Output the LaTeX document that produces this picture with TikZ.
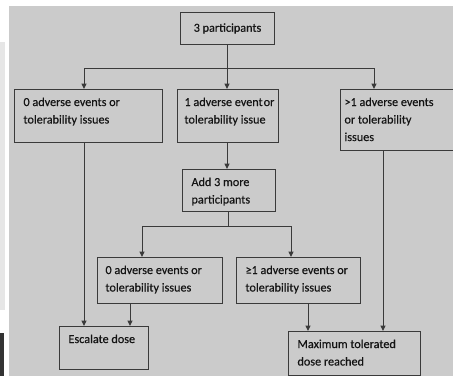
\documentclass[tikz,border=0pt]{standalone}
\usepackage{fontspec}
\setmainfont{Carlito}[FakeBold=0.4]
\usetikzlibrary{arrows.meta}
\definecolor{bg}{HTML}{CBCBCB}
\definecolor{strip}{HTML}{E6E6E6}
\definecolor{darkblk}{HTML}{333333}
\definecolor{ln}{HTML}{3A3A3A}
\definecolor{tx}{HTML}{141414}
\newcommand\boxtxt[4]{\parbox[t][#2pt][t]{#1pt}{\raggedright\leftskip=#3pt\relax\rightskip=-30pt plus 1fil\relax\rule{0pt}{16.5pt}#4}}
\tikzset{
  box/.style={draw=ln, line width=1pt, inner sep=0pt, anchor=north west, text=tx,
              font=\fontsize{12.2}{17.5}\selectfont},
  conn/.style={draw=ln, line width=1pt},
  arr/.style={conn, -{Triangle[length=5.5pt,width=5pt]}},
}
\begin{document}
\begin{tikzpicture}[x=1pt,y=-1pt]
\useasboundingbox (0,0) rectangle (453,376);
\fill[white] (0,0) rectangle (453,376);
\fill[bg] (9,6) rectangle (453,376);
\fill[strip] (0,42) rectangle (5,310);
\fill[darkblk] (0,333) rectangle (4,376);

\node[box] (top) at (180,12) {\parbox[c][32pt][c]{94pt}{\centering 3 participants}};
\node[box] (b0) at (14,89) {\boxtxt{148}{53}{9}{0 adverse events or\\tolerability issues}};
\node[box] (b1) at (176.5,89) {\boxtxt{101}{53}{7.5}{1 adverse event\hspace{1pt}or\\tolerability issue}};
\node[box] (b2) at (340,89) {\boxtxt{112.5}{61}{4}{>1 adverse events\\or tolerability\\issues}};
\node[box] (add) at (182,169) {\boxtxt{93}{42}{9}{Add 3 more\\participants}};
\node[box] (c0) at (97,257) {\boxtxt{125}{46}{8}{0 adverse events or\\tolerability issues}};
\node[box] (c1) at (236,257) {\boxtxt{124}{46}{9}{≥1 adverse events or\\tolerability issues}};
\node[box] (esc) at (59,326) {\boxtxt{89}{43}{9}{Escalate dose}};
\node[box] (mtd) at (288,331) {\boxtxt{132}{43.5}{9}{Maximum tolerated\\dose reached}};

\coordinate (j1) at (227,68);
\coordinate (j2) at (228,226);
\coordinate (xL) at (84,0);
\coordinate (xM) at (227,0);
\coordinate (xR) at (374,0);
\coordinate (xA) at (142,0);
\coordinate (xB) at (291,0);
\coordinate (xC) at (130,0);
\coordinate (xD) at (308,0);
\coordinate (xE) at (383,0);

\draw[conn] (top.south -| xM) -- (j1);
\draw[conn] (j1 -| xL) -- (j1 -| xR);
\draw[arr] (j1 -| xL) -- (b0.north -| xL);
\draw[arr] (j1) -- (b1.north -| xM);
\draw[arr] (j1 -| xR) -- (b2.north -| xR);
\draw[arr] (b1.south -| xM) -- (add.north -| xM);
\draw[conn] (add.south -| j2) -- (j2);
\draw[conn] (j2 -| xA) -- (j2 -| xB);
\draw[arr] (j2 -| xA) -- (c0.north -| xA);
\draw[arr] (j2 -| xB) -- (c1.north -| xB);
\draw[arr] (b0.south -| xL) -- (esc.north -| xL);
\draw[arr] (c0.south -| xC) -- (esc.north -| xC);
\draw[arr] (c1.south -| xD) -- (mtd.north -| xD);
\draw[arr] (b2.south -| xE) -- (mtd.north -| xE);
\end{tikzpicture}
\end{document}
